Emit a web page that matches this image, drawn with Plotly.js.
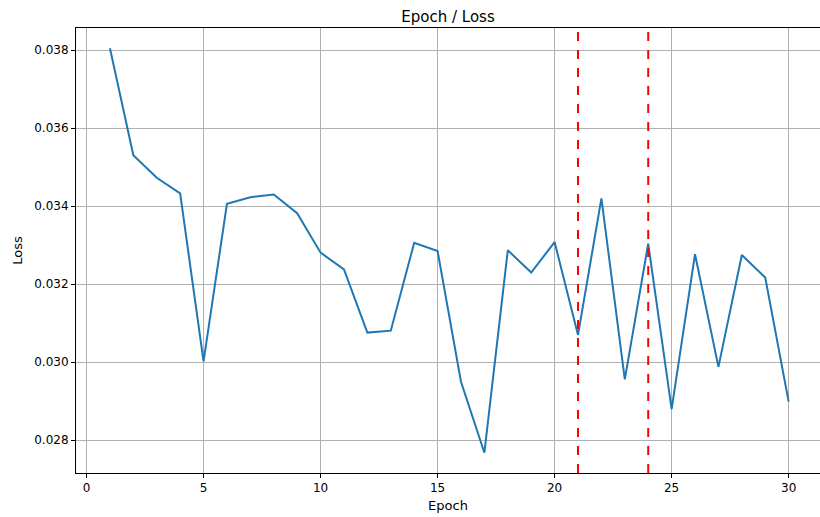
<!DOCTYPE html>
<html>
<head>
<meta charset="utf-8">
<script src="https://cdn.plot.ly/plotly-3.0.1.min.js"></script>
<style>html,body{margin:0;padding:0;background:#fff;}#chart{width:820px;height:517px;}</style>
</head>
<body>
<div id="chart"></div>
<script>
const epochs = [1,2,3,4,5,6,7,8,9,10,11,12,13,14,15,16,17,18,19,20,21,22,23,24,25,26,27,28,29,30];
const loss = [0.03805,0.03531,0.03473,0.03433,0.03002,0.03406,0.03423,0.03430,0.03382,0.03281,
              0.03238,0.03076,0.03081,0.03306,0.03285,0.02950,0.02768,0.03287,0.03230,0.03308,
              0.03070,0.03420,0.02956,0.03304,0.02880,0.03277,0.02988,0.03275,0.03217,0.02899];
const markerEpochs = [21, 24];
const xTicks = [0,5,10,15,20,25,30];
const yTicks = [0.028,0.030,0.032,0.034,0.036,0.038];

const font = "DejaVu Sans, sans-serif";
const shapes = markerEpochs.map(e => ({
  type: 'line', xref: 'x', yref: 'paper', x0: e, x1: e, y0: 0, y1: 1,
  line: {color: 'red', width: 2, dash: 'dash'}
}));

const trace = {
  x: epochs, y: loss, type: 'scatter', mode: 'lines',
  line: {color: '#1f77b4', width: 2}, hoverinfo: 'skip'
};

const layout = {
  width: 820, height: 517,
  margin: {l: 76, r: 0, t: 28, b: 44},
  paper_bgcolor: '#fff', plot_bgcolor: '#fff',
  font: {family: font, color: '#000', size: 12},
  title: {text: 'Epoch / Loss', font: {family: font, size: 15, color: '#000'}, x: 0.5, xref: 'paper', y: 1, yref: 'paper', yanchor: 'bottom', pad: {b: 6}},
  showlegend: false,
  xaxis: {
    range: [-0.45, 31.34], tickvals: xTicks, ticktext: xTicks.map(String),
    showgrid: true, gridcolor: '#b0b0b0', gridwidth: 1,
    zeroline: false, showline: true, linecolor: '#000', linewidth: 1, mirror: true,
    ticks: 'outside', ticklen: 4, tickcolor: '#000',
    tickfont: {family: font, size: 12, color: '#000'},
    title: {text: 'Epoch', font: {family: font, size: 13, color: '#000'}, standoff: 6}
  },
  yaxis: {
    range: [0.02716, 0.03857], tickvals: yTicks, ticktext: yTicks.map(v => v.toFixed(3)),
    showgrid: true, gridcolor: '#b0b0b0', gridwidth: 1,
    zeroline: false, showline: true, linecolor: '#000', linewidth: 1, mirror: true,
    ticks: 'outside', ticklen: 4, tickcolor: '#000',
    tickfont: {family: font, size: 12, color: '#000'},
    title: {text: 'Loss', font: {family: font, size: 13, color: '#000'}, standoff: 8}
  },
  shapes: shapes
};

Plotly.newPlot('chart', [trace], layout, {displayModeBar: false, staticPlot: true});
</script>
</body>
</html>
